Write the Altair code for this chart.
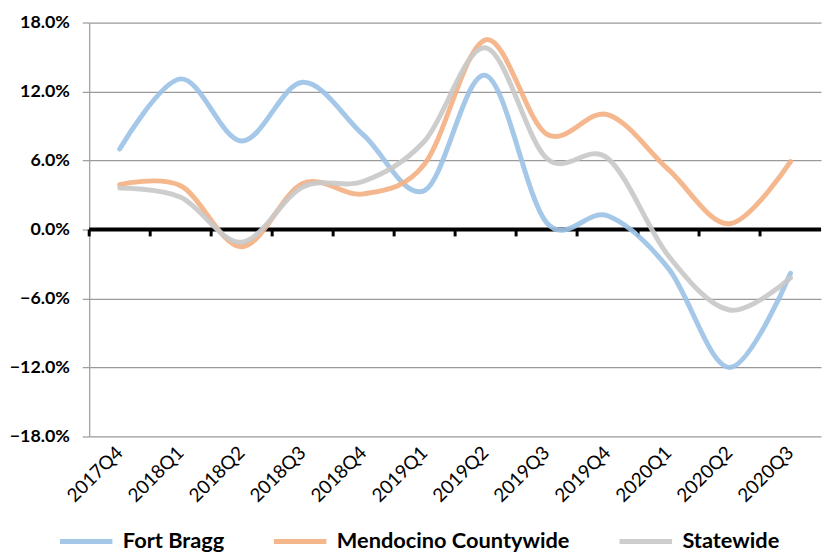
import altair as alt
import pandas as pd

quarters = ["2017Q4", "2018Q1", "2018Q2", "2018Q3", "2018Q4", "2019Q1",
            "2019Q2", "2019Q3", "2019Q4", "2020Q1", "2020Q2", "2020Q3"]
fort_bragg = [7.0, 13.1, 7.7, 12.8, 8.2, 3.4, 13.4, 0.6, 1.2, -3.4, -12.0, -3.8]
mendocino = [3.9, 3.8, -1.5, 4.0, 3.1, 5.7, 16.5, 8.3, 10.0, 5.2, 0.5, 5.9]
statewide = [3.6, 2.8, -1.1, 3.7, 4.2, 7.7, 15.8, 6.2, 6.2, -2.3, -7.0, -4.2]

series_names = ["Fort Bragg", "Mendocino Countywide", "Statewide"]
series_colors = ["#9dc3e6", "#f4b183", "#c9c9c9"]
y_ticks = [-0.18, -0.12, -0.06, 0.0, 0.06, 0.12, 0.18]

rows = []
for name, vals in zip(series_names, [fort_bragg, mendocino, statewide]):
    for q, v in zip(quarters, vals):
        rows.append({"quarter": q, "value": v / 100.0, "series": name,
                     "order": series_names.index(name)})
df = pd.DataFrame(rows)
df_q = pd.DataFrame({"quarter": quarters})
df_zero = pd.DataFrame({"v": [0.0]})

FONT = "Lato"

x_scale = alt.Scale(type="band", domain=quarters, paddingInner=0, paddingOuter=0)
y_scale = alt.Scale(domain=[-0.18, 0.18], nice=False, zero=False)

lines = alt.Chart(df).mark_line(
    interpolate="cardinal", strokeWidth=5, strokeCap="round", opacity=0.92
).encode(
    x=alt.X("quarter:N", scale=x_scale, bandPosition=0.5, title=None,
            axis=alt.Axis(labelAngle=-45, domain=False, ticks=False, grid=False,
                          labelFont=FONT, labelFontSize=19, labelColor="black",
                          labelAlign="right", labelBaseline="middle",
                          labelPadding=13)),
    y=alt.Y("value:Q", scale=y_scale, title=None,
            axis=alt.Axis(values=y_ticks, format=".1%", grid=True,
                          gridColor="#9a9a9a", gridWidth=1.2,
                          domainColor="#9a9a9a", domainWidth=1.2,
                          tickColor="#9a9a9a", tickSize=7, tickWidth=1.2,
                          labelFont=FONT, labelFontSize=18, labelFontWeight="bold",
                          labelColor="black", labelPadding=13)),
    color=alt.Color("series:N",
                    scale=alt.Scale(domain=series_names, range=series_colors),
                    legend=alt.Legend(orient="none", legendX=-32, legendY=495,
                                      direction="horizontal", title=None,
                                      symbolType="stroke", symbolStrokeWidth=5,
                                      symbolSize=2800, labelFont=FONT,
                                      labelFontSize=22, labelFontWeight="bold",
                                      labelColor="black", labelOffset=8,
                                      columnPadding=39, labelLimit=400)),
    detail="series:N",
    order=alt.Order("order:Q"),
)

zero_rule = alt.Chart(df_zero).mark_rule(color="black", strokeWidth=4).encode(
    y=alt.Y("v:Q", scale=y_scale, title=None)
)

ticks = alt.Chart(df_q).mark_rule(color="black", strokeWidth=3).encode(
    x=alt.X("quarter:N", scale=x_scale, bandPosition=0, title=None),
    y=alt.datum(0.0),
    y2=alt.datum(-0.006),
)

chart = alt.layer(zero_rule, ticks, lines).properties(
    width=739, height=418,
    autosize=alt.AutoSizeParams(type="none"),
    padding={"left": 82, "top": 12, "right": 2, "bottom": 116},
).configure_view(stroke=None)

chart.save("out.html", embed_options={"renderer": "svg", "actions": False})
